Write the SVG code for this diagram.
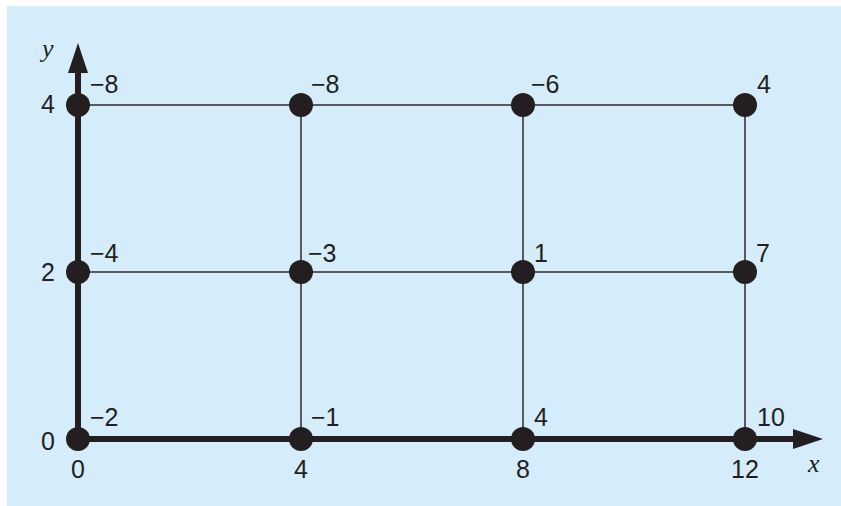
<svg xmlns="http://www.w3.org/2000/svg" width="841" height="506" viewBox="0 0 841 506">
<style>
.grid{stroke:#5a5a5a;stroke-width:2;fill:none}
.axis{stroke:#231f20;stroke-width:6;fill:none}
.dot{fill:#231f20}
.lbl{font-family:"Liberation Sans",Arial,sans-serif;font-size:25px;fill:#231f20}
.tick{font-family:"Liberation Sans",Arial,sans-serif;font-size:25px;fill:#231f20}
.var{font-family:"Liberation Serif","Times New Roman",serif;font-style:italic;font-size:26px;fill:#231f20}
</style>
<defs>
<marker id="arr" viewBox="0 0 30 20" refX="0" refY="10" markerWidth="30" markerHeight="20" markerUnits="userSpaceOnUse" orient="auto">
<path d="M0,0 L30,10 L0,20 Z" fill="#231f20"/>
</marker>
</defs>
<rect x="7" y="6" width="834" height="500" fill="#d5ecfa"/>
<g id="connectors">
<path class="grid" d="M78,105 H745 M78,272 H745 M301,105 V439 M523,105 V439 M745,105 V439"/>
<path class="axis" d="M78,439 V73" marker-end="url(#arr)"/>
<path class="axis" d="M78,439 H793" marker-end="url(#arr)"/>
</g>
<g id="n00"><circle class="dot" cx="78" cy="439" r="12"/><text class="lbl" x="90" y="426">−2</text></g>
<g id="n40"><circle class="dot" cx="301" cy="439" r="12"/><text class="lbl" x="311" y="426">−1</text></g>
<g id="n80"><circle class="dot" cx="523" cy="439" r="12"/><text class="lbl" x="534" y="426">4</text></g>
<g id="n120"><circle class="dot" cx="745" cy="439" r="12"/><text class="lbl" x="757" y="426">10</text></g>
<g id="n02"><circle class="dot" cx="78" cy="272" r="12"/><text class="lbl" x="90" y="262">−4</text></g>
<g id="n42"><circle class="dot" cx="301" cy="272" r="12"/><text class="lbl" x="308" y="262">−3</text></g>
<g id="n82"><circle class="dot" cx="523" cy="272" r="12"/><text class="lbl" x="534" y="262">1</text></g>
<g id="n122"><circle class="dot" cx="745" cy="272" r="12"/><text class="lbl" x="756" y="262">7</text></g>
<g id="n04"><circle class="dot" cx="78" cy="105" r="12"/><text class="lbl" x="90" y="93">−8</text></g>
<g id="n44"><circle class="dot" cx="301" cy="105" r="12"/><text class="lbl" x="311" y="93">−8</text></g>
<g id="n84"><circle class="dot" cx="523" cy="105" r="12"/><text class="lbl" x="531" y="93">−6</text></g>
<g id="n124"><circle class="dot" cx="745" cy="105" r="12"/><text class="lbl" x="757" y="93">4</text></g>
<g id="ticks">
<text class="tick" x="55" y="113" text-anchor="end">4</text>
<text class="tick" x="55" y="281" text-anchor="end">2</text>
<text class="tick" x="55" y="450" text-anchor="end">0</text>
<text class="tick" x="78" y="478" text-anchor="middle">0</text>
<text class="tick" x="301" y="478" text-anchor="middle">4</text>
<text class="tick" x="523" y="478" text-anchor="middle">8</text>
<text class="tick" x="745" y="478" text-anchor="middle">12</text>
<text class="var" x="42" y="57">y</text>
<text class="var" x="808" y="472">x</text>
</g>
</svg>
